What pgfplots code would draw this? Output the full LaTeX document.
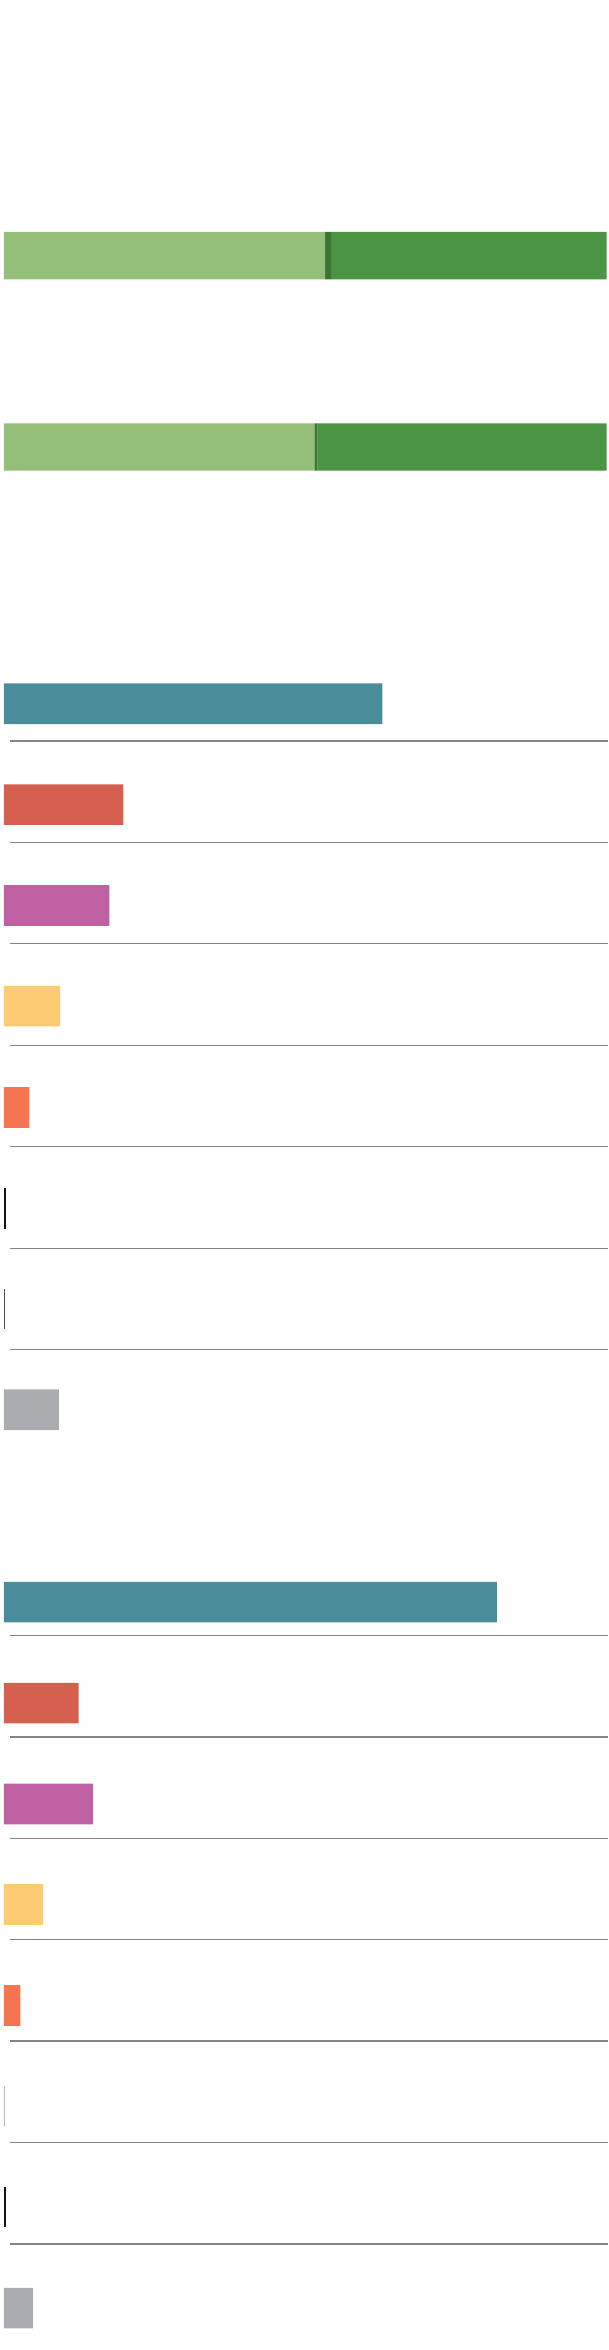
\documentclass[border=0pt]{standalone}
\usepackage{pgfplots}
\pgfplotsset{compat=1.18}
\definecolor{lgreen}{HTML}{93BF78}
\definecolor{dgreen}{HTML}{4A9443}
\definecolor{divgreen}{HTML}{3B7534}
\definecolor{cteal}{HTML}{4A8C99}
\definecolor{cred}{HTML}{D66050}
\definecolor{cpink}{HTML}{BF60A3}
\definecolor{cyellow}{HTML}{FACB72}
\definecolor{corange}{HTML}{F6744F}
\definecolor{cgray}{HTML}{ABACAF}
\definecolor{cblack}{HTML}{151515}
\definecolor{cdgray}{HTML}{505050}
\definecolor{clgray}{HTML}{BBBBBB}
\definecolor{cgrid}{HTML}{858585}
\begin{document}
\begin{tikzpicture}[x=1pt,y=1pt]
\useasboundingbox (0,0) rectangle (608,2350);
% stacked green bars
\begin{axis}[at={(4pt,0pt)}, anchor=south west, width=602.5pt, height=2350pt,
  scale only axis, xmin=0, xmax=100, ymin=-2350, ymax=0,
  axis lines=none, ticks=none, clip=false, xbar stacked, bar width=47.3pt]
\addplot[fill=lgreen, draw=none] coordinates {(53.3,-255.7) (51.5,-447)};
\addplot[fill=divgreen, draw=none] coordinates {(1.0,-255.7) (0.5,-447)};
\addplot[fill=dgreen, draw=none] coordinates {(45.7,-255.7) (48.0,-447)};
\end{axis}
% single bars and separators
\begin{axis}[at={(4pt,0pt)}, anchor=south west, width=602.5pt, height=2350pt,
  scale only axis, xmin=0, xmax=100, ymin=-2350, ymax=0,
  axis lines=none, ticks=none, clip=false]
\pgfplotsset{bb/.style={xbar, bar shift=0pt, bar width=40.6pt, draw=none}}
\addplot[bb, fill=cteal] coordinates {(62.8,-703.8) (81.8,-1602.2)};
\addplot[bb, fill=cred] coordinates {(19.8,-804.7) (12.4,-1703.2)};
\addplot[bb, fill=cpink] coordinates {(17.5,-905.5) (14.8,-1804)};
\addplot[bb, fill=cyellow] coordinates {(9.3,-1006.2) (6.5,-1904.5)};
\addplot[bb, fill=corange] coordinates {(4.2,-1107.5) (2.7,-2005.5)};
\addplot[bb, fill=cblack] coordinates {(0.33,-1208.3)};
\addplot[bb, fill=cdgray] coordinates {(0.2,-1309)};
\addplot[bb, fill=clgray] coordinates {(0.17,-2106.3)};
\addplot[bb, fill=cblack] coordinates {(0.25,-2207)};
\addplot[bb, fill=cgray] coordinates {(9.1,-1409.8) (4.8,-2308.2)};
\pgfplotsset{gl/.style={color=cgrid, line width=1.1pt, no marks, sharp plot}}
\addplot[gl] coordinates {(1.0,-741) (100.25,-741)};
\addplot[gl] coordinates {(1.0,-842.3) (100.25,-842.3)};
\addplot[gl] coordinates {(1.0,-943.7) (100.25,-943.7)};
\addplot[gl] coordinates {(1.0,-1045.3) (100.25,-1045.3)};
\addplot[gl] coordinates {(1.0,-1146.3) (100.25,-1146.3)};
\addplot[gl] coordinates {(1.0,-1248.3) (100.25,-1248.3)};
\addplot[gl] coordinates {(1.0,-1349.3) (100.25,-1349.3)};
\addplot[gl] coordinates {(1.0,-1635.3) (100.25,-1635.3)};
\addplot[gl] coordinates {(1.0,-1737) (100.25,-1737)};
\addplot[gl] coordinates {(1.0,-1838.3) (100.25,-1838.3)};
\addplot[gl] coordinates {(1.0,-1939.3) (100.25,-1939.3)};
\addplot[gl] coordinates {(1.0,-2041) (100.25,-2041)};
\addplot[gl] coordinates {(1.0,-2142.3) (100.25,-2142.3)};
\addplot[gl] coordinates {(1.0,-2244) (100.25,-2244)};
\end{axis}
\end{tikzpicture}
\end{document}
